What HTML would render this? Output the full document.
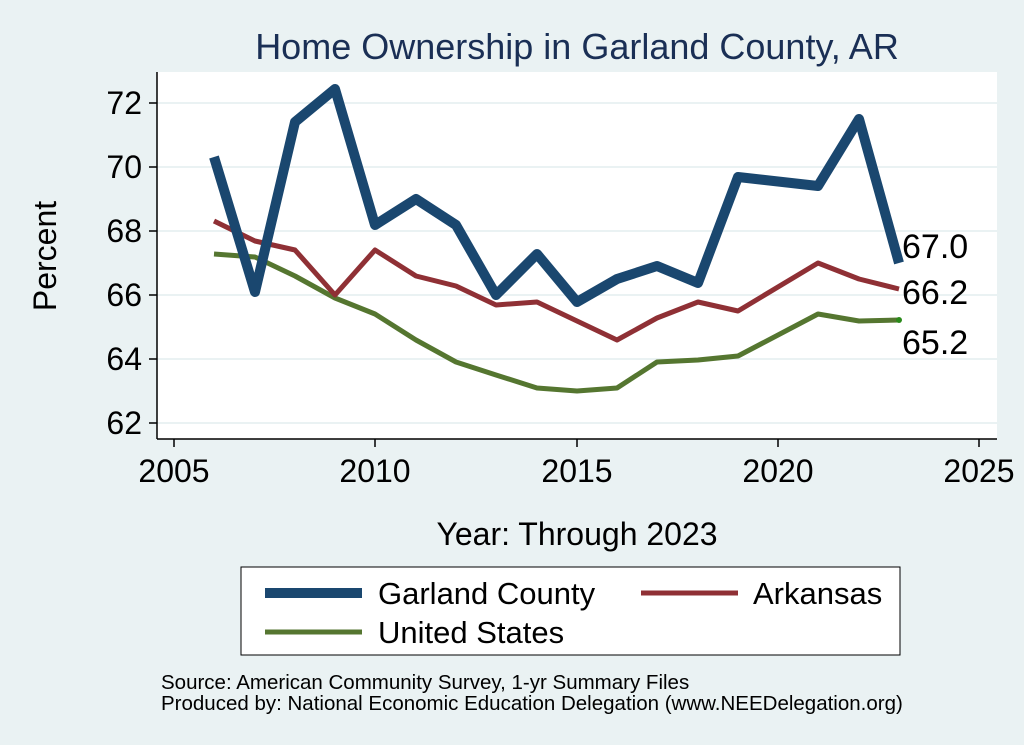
<!DOCTYPE html>
<html><head><style>body{margin:0;background:#eaf2f3;}svg{display:block;font-family:"Liberation Sans",Arial,sans-serif;}</style></head>
<body>
<svg width="1024" height="745" viewBox="0 0 1024 745">
<rect width="1024" height="745" fill="#eaf2f3"/>
<text x="577" y="59" font-size="36" fill="#1a2f55" text-anchor="middle">Home Ownership in Garland County, AR</text>
<rect x="157" y="72" width="840" height="367" fill="#fff"/>
<g stroke="#eaf2f3" stroke-width="2">
<line x1="157" x2="997" y1="103" y2="103"/><line x1="157" x2="997" y1="167" y2="167"/><line x1="157" x2="997" y1="231" y2="231"/><line x1="157" x2="997" y1="295" y2="295"/><line x1="157" x2="997" y1="359" y2="359"/><line x1="157" x2="997" y1="423" y2="423"/>
</g>
<g stroke="#000" stroke-width="1.5">
<line x1="157" y1="72" x2="157" y2="439"/><line x1="157" y1="439" x2="997" y2="439"/>
<line x1="149" x2="157" y1="103" y2="103"/><line x1="149" x2="157" y1="167" y2="167"/><line x1="149" x2="157" y1="231" y2="231"/><line x1="149" x2="157" y1="295" y2="295"/><line x1="149" x2="157" y1="359" y2="359"/><line x1="149" x2="157" y1="423" y2="423"/>
<line x1="174" x2="174" y1="439" y2="447"/><line x1="375" x2="375" y1="439" y2="447"/><line x1="577" x2="577" y1="439" y2="447"/><line x1="778" x2="778" y1="439" y2="447"/><line x1="979" x2="979" y1="439" y2="447"/>
</g>
<g font-size="32" text-anchor="end" fill="#000">
<text x="142" y="114">72</text><text x="142" y="178">70</text><text x="142" y="242">68</text><text x="142" y="306">66</text><text x="142" y="370">64</text><text x="142" y="434">62</text>
</g>
<g font-size="32" text-anchor="middle" fill="#000">
<text x="174" y="482">2005</text><text x="375" y="482">2010</text><text x="577" y="482">2015</text><text x="778" y="482">2020</text><text x="979" y="482">2025</text>
<text x="577" y="545">Year: Through 2023</text>
</g>
<text transform="translate(56,256) rotate(-90)" font-size="32" text-anchor="middle">Percent</text>
<g fill="none" stroke-linejoin="round">
<polyline stroke="#557630" stroke-width="5" points="214,254 255,257 295,276 335,298 375,314 416,340 456,362 496,375 537,388 577,391 617,388 657,362 698,360 738,356 818,314 859,321 899,320"/>
<polyline stroke="#8f3035" stroke-width="5" points="214,221 255,241 295,250 335,295 375,250 416,276 456,286 496,305 537,302 577,321 617,340 657,318 698,302 738,311 818,263 859,279 899,289"/>
<polyline stroke="#1a476f" stroke-width="10" points="214,157 255,292 295,122 335,89 375,225 416,199 456,225 496,295 537,254 577,302 617,279 657,266 698,283 738,177 818,186 859,119 899,263"/>
</g>
<circle cx="899" cy="320" r="3" fill="#2a8a1a"/>
<g font-size="34" fill="#000">
<text x="902" y="258">67.0</text><text x="902" y="304">66.2</text><text x="902" y="354">65.2</text>
</g>
<rect x="241" y="567" width="659" height="88" fill="#fff" stroke="#000" stroke-width="1"/>
<line x1="265" x2="362" y1="593" y2="593" stroke="#1a476f" stroke-width="10"/>
<line x1="641" x2="738" y1="593" y2="593" stroke="#8f3035" stroke-width="5"/>
<line x1="265" x2="362" y1="632" y2="632" stroke="#557630" stroke-width="5"/>
<g font-size="31" fill="#000">
<text x="378" y="604">Garland County</text><text x="753" y="604">Arkansas</text><text x="378" y="643">United States</text>
</g>
<g font-size="20.5" fill="#000">
<text x="161" y="689">Source: American Community Survey, 1-yr Summary Files</text>
<text x="161" y="710">Produced by: National Economic Education Delegation (www.NEEDelegation.org)</text>
</g>
</svg>
</body></html>
